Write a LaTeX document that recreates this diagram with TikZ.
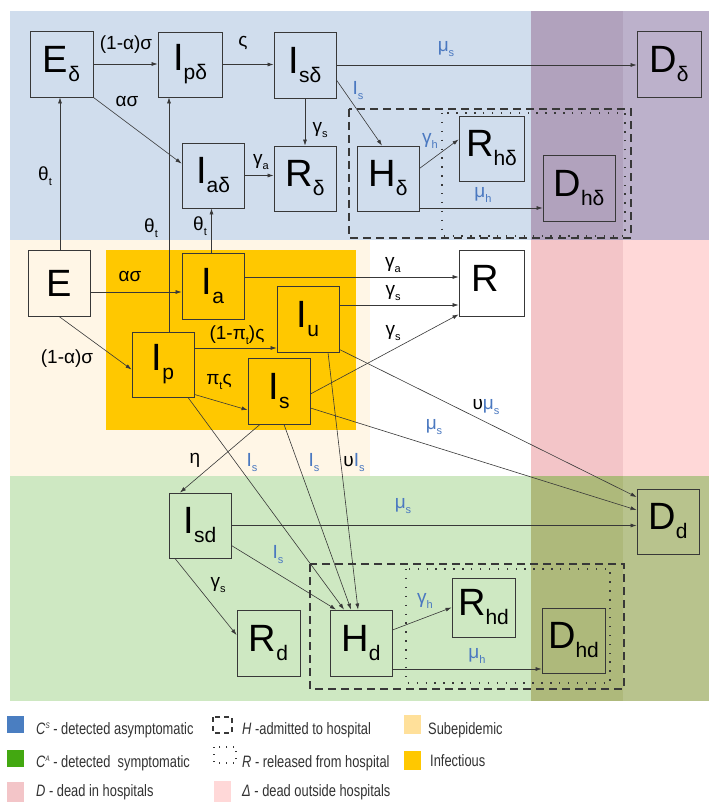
\documentclass[tikz,border=0pt]{standalone}
\usepackage{fontspec}
\setmainfont{Liberation Sans}
\newfontfamily\legfont[FakeStretch=0.78]{Liberation Sans}
\usetikzlibrary{arrows.meta,calc}
\definecolor{bgblue}{HTML}{D0DDED}
\definecolor{purpA}{HTML}{B1A2BD}
\definecolor{purpB}{HTML}{BCB1CB}
\definecolor{cream}{HTML}{FFF6E6}
\definecolor{pinkA}{HTML}{F3C5C8}
\definecolor{pinkB}{HTML}{FFD8D8}
\definecolor{bggreen}{HTML}{CEE8C2}
\definecolor{oliveA}{HTML}{AEB97B}
\definecolor{oliveB}{HTML}{B8C38D}
\definecolor{infect}{HTML}{FFC800}
\definecolor{subep}{HTML}{FFE09A}
\definecolor{legblue}{HTML}{4A7EC1}
\definecolor{leggreen}{HTML}{43A811}
\definecolor{lblue}{HTML}{4A78C0}
\definecolor{edgec}{HTML}{383838}
\definecolor{legtext}{HTML}{333333}
\newcommand{\bxl}[2]{{\fontsize{38}{38}\selectfont #1}\raisebox{-9pt}{\fontsize{21}{21}\selectfont #2}}
\newcommand{\elab}[2]{{\fontsize{19}{19}\selectfont #1}\raisebox{-5pt}{\fontsize{11}{11}\selectfont #2}}
\newcommand{\legsty}{\legfont\fontsize{16.5}{16.5}\selectfont\color{legtext}}
\begin{document}
\begin{tikzpicture}[x=1pt,y=-1pt,
  box/.style={draw=edgec, line width=0.9pt, minimum width=62pt, minimum height=66pt, inner sep=0pt},
  arr/.style={draw=edgec, line width=0.6pt, -{Latex[length=6pt,width=4pt]}},
  lbl/.style={inner sep=0pt, text=black},
  blbl/.style={inner sep=0pt, text=lblue},
  hosp/.style={draw=edgec, line width=1.5pt, dash pattern=on 8pt off 5pt},
  rel/.style={draw=edgec, line width=1.4pt, dash pattern=on 1.4pt off 7.5pt},
  legtxt/.style={inner sep=0pt, anchor=base west}]
\useasboundingbox (0,0) rectangle (709,802);
% backgrounds
\fill[white] (0,0) rectangle (709,802);
\fill[bgblue] (10,11) rectangle (709,240);
\fill[purpA] (531,11) rectangle (623,240);
\fill[purpB] (623,11) rectangle (709,240);
\fill[cream] (10,240) rectangle (370,476);
\fill[pinkA] (531,240) rectangle (623,476);
\fill[pinkB] (623,240) rectangle (709,476);
\fill[bggreen] (10,476) rectangle (709,701);
\fill[oliveA] (531,476) rectangle (623,701);
\fill[oliveB] (623,476) rectangle (709,701);
\fill[infect] (106,250) rectangle (356,430);
% hospital boxes
\draw[hosp] (349,109) rectangle (631,238);
\draw[rel] (442,113) rectangle (625,236);
\draw[hosp] (310,564) rectangle (624,689);
\draw[rel] (406,569) rectangle (610,683);
% nodes
\node[box, minimum width=63pt] (Ed) at (61.5,64) {\bxl{E}{δ}};
\node[box, minimum width=64pt, minimum height=65pt] (Ipd) at (190,64.5) {\bxl{I}{pδ}};
\node[box] (Isd) at (305,65) {\bxl{I}{sδ}};
\node[box, minimum height=65pt] (Iad) at (213,175.5) {\bxl{I}{aδ}};
\node[box, minimum height=65pt] (Rdl) at (305,178.5) {\bxl{R}{δ}};
\node[box, minimum height=65pt] (Hdl) at (388,178.5) {\bxl{H}{δ}};
\node[box, minimum width=65pt, minimum height=65pt] (Rhdl) at (491.5,148.5) {\bxl{R}{hδ}};
\node[box, minimum width=72pt] (Dhdl) at (579,188) {\bxl{D}{hδ}};
\node[box, minimum width=64pt] (Ddl) at (669,64) {\bxl{D}{δ}};
\node[box] (E) at (59,283) {{\fontsize{38}{38}\selectfont E}};
\node[box] (Ia) at (213,286) {\bxl{I}{a}};
\node[box] (Iu) at (308,319) {\bxl{I}{u}};
\node[box, minimum height=65pt] (Ip) at (163,364.5) {\bxl{I}{p}};
\node[box] (Is) at (279,391) {\bxl{I}{s}};
\node[box, minimum width=65pt] (R) at (491.5,283) {\bxl{R}{\phantom{δ}}};
\node[box, minimum height=65pt] (Isdn) at (200,525.5) {\bxl{I}{sd}};
\node[box, minimum width=63pt] (Rd) at (268.5,643) {\bxl{R}{d}};
\node[box] (Hd) at (361,643) {\bxl{H}{d}};
\node[box, minimum width=63pt, minimum height=59pt] (Rhd) at (483.5,607.5) {\bxl{R}{hd}};
\node[box, minimum width=63pt, minimum height=65pt] (Dhd) at (573.5,640.5) {\bxl{D}{hd}};
\node[box, minimum height=65pt] (Dd) at (668,521.5) {\bxl{D}{d}};
% top edges
\draw[arr] (Ed.east) -- (Ed.east -| Ipd.west);
\draw[arr] (Ipd.east) -- (Ipd.east -| Isd.west);
\draw[arr] (Isd.east) -- (Isd.east -| Ddl.west);
\draw[arr] (Ed.south east) -- ($(Iad.west)+(0,-12)$);
\draw[arr] (Isd.south) -- (Rdl.north);
\draw[arr] (Iad.east) -- (Iad.east -| Rdl.west);
\draw[arr] ($(Isd.east)+(0,15)$) -- ($(Hdl.north)+(-6,0)$);
\draw[arr] ($(Hdl.east)+(0,-10)$) -- ($(Rhdl.west)+(0,-9)$);
\coordinate (hdlo) at ($(Hdl.east)+(0,29.5)$);
\draw[arr] (hdlo) -- (hdlo -| Dhdl.west);
% theta edges
\coordinate (eup) at ($(E.north)+(1,0)$);
\draw[arr] (eup) -- (eup |- Ed.south);
\coordinate (ipup) at ($(Ip.north)+(6,0)$);
\draw[arr] (ipup) -- (ipup |- Ipd.south);
\coordinate (iaup) at ($(Ia.north)+(-1.5,0)$);
\draw[arr] (iaup) -- (iaup |- Iad.south);
% middle edges
\coordinate (eia) at ($(E.east)+(0,9)$);
\draw[arr] (eia) -- (eia -| Ia.west);
\draw[arr] (E.south) -- ($(Ip.west)+(0,5)$);
\coordinate (iar) at ($(Ia.east)+(0,-9)$);
\draw[arr] (iar) -- (iar -| R.west);
\coordinate (iur) at ($(Iu.east)+(0,-14)$);
\draw[arr] (iur) -- (iur -| R.west);
\draw[arr] ($(Is.east)+(0,3)$) -- ($(R.south west)+(0,-2)$);
\coordinate (ipiu) at ($(Ip.east)+(0,-16.5)$);
\draw[arr] (ipiu) -- (ipiu -| Iu.west);
\draw[arr] ($(Ip.south east)+(0,-3)$) -- ($(Is.west)+(0,19)$);
\draw[arr] ($(Iu.south east)+(0,-3)$) -- ($(Dd.west)+(0,-24.5)$);
\draw[arr] ($(Is.east)+(0,17)$) -- ($(Dd.west)+(0,-11.5)$);
\draw[arr] ($(Is.south)+(-19,0)$) -- ($(Isdn.north)+(-20,0)$);
\draw[arr] ($(Ip.south)+(25,0)$) -- ($(Hd.north)+(-17,0)$);
\draw[arr] ($(Is.south)+(5,0)$) -- ($(Hd.north)+(-10,0)$);
\draw[arr] ($(Iu.south)+(20,0)$) -- ($(Hd.north)+(-3,0)$);
% bottom edges
\draw[arr] (Isdn.east) -- (Isdn.east -| Dd.west);
\draw[arr] ($(Isdn.east)+(0,20)$) -- ($(Hd.north)+(-25,0)$);
\draw[arr] ($(Isdn.south)+(-25,0)$) -- ($(Rd.west)+(0,-8)$);
\draw[arr] ($(Hd.east)+(0,-13)$) -- (Rhd.west);
\coordinate (hdo) at ($(Hd.east)+(0,26)$);
\draw[arr] (hdo) -- (hdo -| Dhd.west);
% labels top
\node[lbl] (l1) at (126,45) {\elab{(1-α)σ}{}};
\node[lbl] (l2) at (243,44) {\elab{ς}{}};
\node[blbl] (l3) at (446,49) {\elab{μ}{s}};
\node[lbl] (l4) at (127,104) {\elab{ασ}{}};
\node[lbl] (l5) at (320,130) {\elab{γ}{s}};
\node[lbl] (l6) at (261,162) {\elab{γ}{a}};
\node[blbl] (l7) at (358,91) {\elab{I}{s}};
\node[blbl] (l8) at (430,141) {\elab{γ}{h}};
\node[blbl] (l9) at (483,195) {\elab{μ}{h}};
\node[lbl] (l10) at (45,176) {\elab{θ}{t}};
\node[lbl] (l11) at (151,228) {\elab{θ}{t}};
\node[lbl] (l12) at (200,226) {\elab{θ}{t}};
% labels middle
\node[lbl] (l13) at (130,279) {\elab{ασ}{}};
\node[lbl] (l14) at (67,359) {\elab{(1-α)σ}{}};
\node[lbl] (l15) at (393,265) {\elab{γ}{a}};
\node[lbl] (l16) at (393,293) {\elab{γ}{s}};
\node[lbl] (l17) at (393,333) {\elab{γ}{s}};
\node[lbl] (l18) at (237,335) {{\fontsize{19}{19}\selectfont (1-π}\raisebox{-5pt}{\fontsize{11}{11}\selectfont t}{\fontsize{19}{19}\selectfont )ς}};
\node[lbl] (l19) at (219,382) {{\fontsize{19}{19}\selectfont π}\raisebox{-5pt}{\fontsize{11}{11}\selectfont t}{\fontsize{19}{19}\selectfont ς}};
\node[lbl] (l20) at (486,407) {{\fontsize{19}{19}\selectfont υ}{\color{lblue}\elab{μ}{s}}};
\node[blbl] (l21) at (434,427) {\elab{μ}{s}};
\node[lbl] (l22) at (195,461) {\elab{η}{}};
\node[blbl] (l23) at (252,463) {\elab{I}{s}};
\node[blbl] (l24) at (314,463) {\elab{I}{s}};
\node[lbl] (l25) at (354,463) {{\fontsize{19}{19}\selectfont υ}{\color{lblue}\elab{I}{s}}};
% labels bottom
\node[blbl] (l26) at (403,506) {\elab{μ}{s}};
\node[blbl] (l27) at (278,555) {\elab{I}{s}};
\node[lbl] (l28) at (218,585) {\elab{γ}{s}};
\node[blbl] (l29) at (425,601) {\elab{γ}{h}};
\node[blbl] (l30) at (477,656) {\elab{μ}{h}};
% legend
\fill[legblue] (7,716) rectangle (24,733);
\fill[leggreen] (7,750) rectangle (24,767);
\fill[pinkA] (7,782) rectangle (24,802);
\node[legtxt] (t1) at (36,734) {\legsty \textit{C}\raisebox{6pt}{\fontsize{8}{8}\selectfont\itshape S} - detected asymptomatic};
\node[legtxt] (t2) at (36,767) {\legsty \textit{C}\raisebox{6pt}{\fontsize{8}{8}\selectfont\itshape A} - detected\ \ symptomatic};
\node[legtxt] (t3) at (36,796) {\legsty \textit{D} - dead in hospitals};
\draw[draw=edgec, line width=1.2pt, dash pattern=on 5pt off 4pt] (213,717) rectangle (232,733);
\draw[draw=edgec, line width=1.1pt, dash pattern=on 1pt off 6pt] (214,747) rectangle (236,763);
\fill[pinkB] (214,781) rectangle (231,802);
\node[legtxt] (t4) at (242,734) {\legsty \textit{H} -admitted to hospital};
\node[legtxt] (t5) at (242,767) {\legsty \textit{R} - released from hospital};
\node[legtxt] (t6) at (242,796) {\legsty \textit{Δ} - dead outside hospitals};
\fill[subep] (404,715) rectangle (421,734);
\fill[infect] (404,751) rectangle (421,770);
\node[legtxt] (t7) at (428,734) {\legsty Subepidemic};
\node[legtxt] (t8) at (430,766) {\legsty Infectious};
\end{tikzpicture}
\end{document}
